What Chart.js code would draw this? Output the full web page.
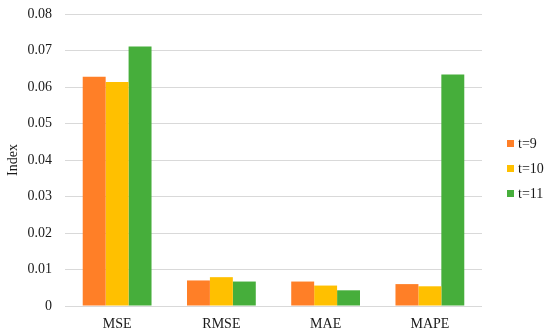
<!DOCTYPE html>
<html>
<head>
<meta charset="utf-8">
<script src="https://cdn.jsdelivr.net/npm/chart.js@4/dist/chart.umd.min.js"></script>
<style>
	html, body { margin: 0; padding: 0; background: #fff; }
	#wrap { position: relative; width: 550px; height: 335px; }
	#legend { position: absolute; left: 507px; top: 131px; font-family: "Liberation Serif", "Times New Roman", serif; font-size: 14px; color: #1a1a1a; }
	#legend .item { display: flex; align-items: center; height: 25px; }
	#legend .box { width: 7px; height: 7px; margin-right: 4px; }
</style>
</head>
<body>
<div id="wrap">
	<canvas id="chart" width="550" height="335"></canvas>
	<div id="legend"></div>
</div>
<script>
const categories = ["MSE", "RMSE", "MAE", "MAPE"];
const seriesNames = ["t=9", "t=10", "t=11"];
const t9 = [0.0628, 0.0070, 0.0067, 0.0060];
const t10 = [0.0614, 0.0079, 0.0056, 0.0054];
const t11 = [0.0711, 0.0067, 0.0043, 0.0634];
const yTicks = [0, 0.01, 0.02, 0.03, 0.04, 0.05, 0.06, 0.07, 0.08];

const colors = ["#ff7f27", "#ffc000", "#46ae3b"];
const seriesValues = [t9, t10, t11];
const serif = "'Liberation Serif', 'Times New Roman', serif";

const chart = new Chart(document.getElementById("chart"), {
	type: "bar",
	data: {
		labels: categories,
		datasets: seriesNames.map((name, i) => ({
			label: name,
			data: seriesValues[i],
			backgroundColor: colors[i],
			categoryPercentage: 0.66,
			barPercentage: 1,
		})),
	},
	options: {
		responsive: false,
		animation: false,
		layout: {
			padding: { top: 14, right: 68, bottom: 0, left: 0 },
		},
		plugins: {
			legend: { display: false },
			tooltip: { enabled: false },
		},
		scales: {
			x: {
				grid: { display: false, drawTicks: false },
				border: { display: false },
				afterFit: (scale) => {
					scale.height = 29;
				},
				ticks: {
					padding: 10,
					color: "#1a1a1a",
					font: { family: serif, size: 14 },
				},
			},
			y: {
				min: 0,
				max: 0.08,
				afterBuildTicks: (scale) => {
					scale.ticks = yTicks.map((v) => ({ value: v }));
				},
				afterFit: (scale) => {
					scale.width = 65;
					scale.paddingTop = 0;
				},
				grid: { color: "#d9d9d9", lineWidth: 1, drawTicks: false },
				border: { display: false },
				ticks: {
					padding: 13,
					color: "#1a1a1a",
					font: { family: serif, size: 14 },
					callback: (v) => (v === 0 ? "0" : v.toFixed(2)),
				},
				title: {
					display: true,
					text: "Index",
					color: "#1a1a1a",
					font: { family: serif, size: 14 },
					padding: { top: 5, bottom: 0 },
				},
			},
		},
	},
});

const legend = document.getElementById("legend");
seriesNames.forEach((name, i) => {
	const item = document.createElement("div");
	item.className = "item";
	const box = document.createElement("span");
	box.className = "box";
	box.style.background = colors[i];
	const text = document.createElement("span");
	text.textContent = name;
	item.appendChild(box);
	item.appendChild(text);
	legend.appendChild(item);
});
</script>
</body>
</html>
